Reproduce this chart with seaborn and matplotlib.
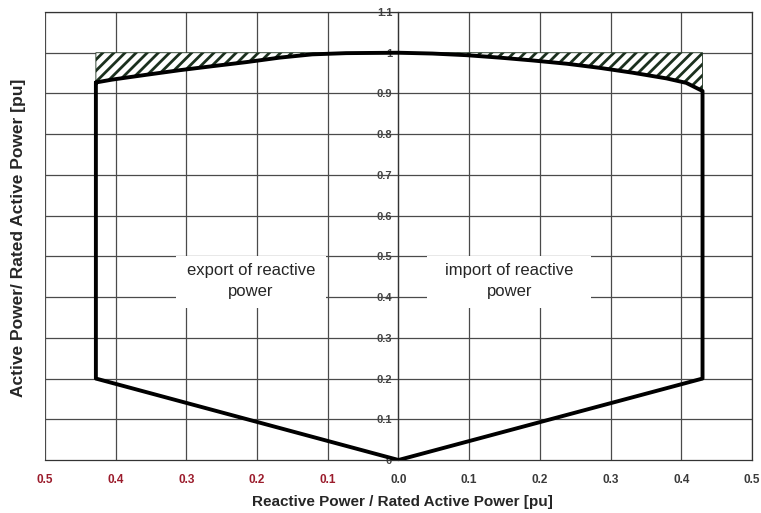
import numpy as np
import pandas as pd
import matplotlib
matplotlib.use("Agg")
import matplotlib.pyplot as plt
from matplotlib.patches import Rectangle
import seaborn as sns

# Capability curve: reactive power Q vs active power P (per unit)
q_top = [-0.428, -0.405, -0.356, -0.310, -0.263, -0.215, -0.168, -0.122, -0.074,
         0.0, 0.048, 0.096, 0.143, 0.190, 0.238, 0.284, 0.331, 0.379, 0.407, 0.430]
p_top = [0.927, 0.934, 0.946, 0.957, 0.967, 0.977, 0.988, 0.996, 0.999,
         1.0, 0.998, 0.994, 0.988, 0.981, 0.973, 0.963, 0.951, 0.937, 0.926, 0.906]

# Lower part of the envelope: vertical limits down to 0.2 pu, then to the origin
q_low = [0.430, 0.430, 0.0, -0.428, -0.428]
p_low = [0.906, 0.2, 0.0, 0.2, 0.927]

p_rated = 1.0
x_ticks = [-0.5, -0.4, -0.3, -0.2, -0.1, 0.0, 0.1, 0.2, 0.3, 0.4, 0.5]
x_tick_labels = ["0.5", "0.4", "0.3", "0.2", "0.1", "0.0", "0.1", "0.2", "0.3", "0.4", "0.5"]
y_ticks = [0.0, 0.1, 0.2, 0.3, 0.4, 0.5, 0.6, 0.7, 0.8, 0.9, 1.0, 1.1]
y_tick_labels = ["0", "0.1", "0.2", "0.3", "0.4", "0.5", "0.6", "0.7", "0.8", "0.9", "1", "1.1"]

sns.set_style("white")
plt.rcParams["font.family"] = ["Liberation Sans", "DejaVu Sans"]
plt.rcParams["hatch.linewidth"] = 2.0
plt.rcParams["hatch.color"] = "#1b301e"

fig = plt.figure(figsize=(7.61, 5.13), dpi=100)
ax = fig.add_axes([0.0591, 0.1033, 0.9291, 0.8733])

ax.set_xlim(-0.5, 0.5)
ax.set_ylim(0, 1.1)

# grid
grid_c = "#4a4a4a"
for xv in x_ticks:
    ax.axvline(xv, color=grid_c, lw=0.9, zorder=0)
for yv in y_ticks[1:]:
    ax.axhline(yv, color=grid_c, lw=0.9, zorder=0)

# hatched area between the curve and rated power
ax.fill_between(q_top, p_top, [p_rated] * len(q_top), facecolor="white",
                edgecolor="#1b301e", hatch="///", linewidth=0.6, zorder=2)

# envelope outline
outline = pd.DataFrame({"q": q_top + q_low, "p": p_top + p_low})
sns.lineplot(data=outline, x="q", y="p", sort=False, estimator=None,
             color="black", lw=2.8, ax=ax, zorder=4)

# region labels on white backing
for x0, x1 in [(-0.314, -0.102), (0.041, 0.272)]:
    ax.add_patch(Rectangle((x0, 0.373), x1 - x0, 0.501 - 0.373,
                           facecolor="white", edgecolor="none", zorder=1))
ax.text(-0.209, 0.44, "export of reactive\npower", ha="center", va="center",
        fontsize=12, linespacing=1.5, zorder=3)
ax.text(0.157, 0.44, "import of reactive\npower", ha="center", va="center",
        fontsize=12, linespacing=1.5, zorder=3)

# axes styling
for s in ["top", "right", "bottom"]:
    ax.spines[s].set_visible(True)
    ax.spines[s].set_color("#333333")
    ax.spines[s].set_linewidth(0.9)
ax.spines["left"].set_position(("data", 0))
ax.spines["left"].set_color("#333333")
ax.spines["left"].set_linewidth(0.9)

ax.set_xticks(x_ticks)
ax.set_xticklabels(x_tick_labels, fontsize=8.5, fontweight="bold")
for lbl, xv in zip(ax.get_xticklabels(), x_ticks):
    lbl.set_color("#9b1c2c" if xv < 0 else "#3a3a3a")
ax.set_yticks(y_ticks)
ax.set_yticklabels(y_tick_labels, fontsize=8, fontweight="bold", color="#444444")
ax.tick_params(axis="x", direction="out", length=4, width=0.8, color="#333333", pad=6)
ax.tick_params(axis="y", direction="inout", length=5, width=0.8, color="#333333", pad=2)

ax.set_xlabel("Reactive Power / Rated Active Power [pu]", fontsize=11,
              fontweight="bold")
ax.xaxis.set_label_coords(0.505, -0.078)
ax.set_ylabel("")
fig.text(0.024, 0.536, "Active Power/ Rated Active Power [pu]", rotation=90,
         ha="center", va="center", fontsize=12.5, fontweight="bold")

fig.savefig("out.png", dpi=100)
